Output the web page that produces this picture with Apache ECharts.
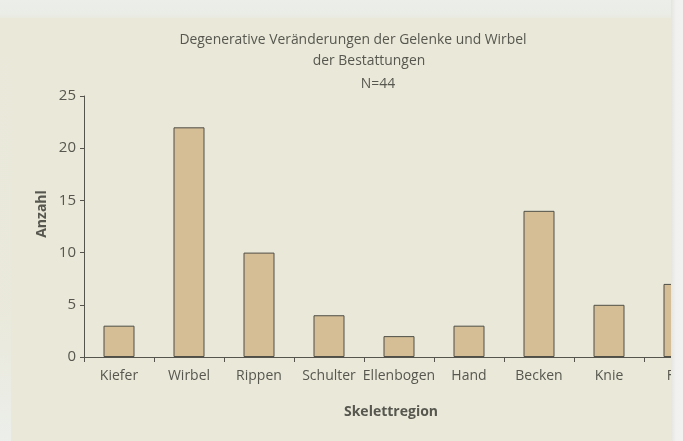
<!DOCTYPE html>
<html><head><meta charset="utf-8">
<script src="https://cdn.jsdelivr.net/npm/echarts@6/dist/echarts.min.js"></script>
<style>html,body{margin:0;padding:0;background:#e9e8d9;overflow:hidden;}#c{width:720px;height:441px;}</style>
</head><body><div id="c"></div>
<script>
const categories = ['Kiefer','Wirbel','Rippen','Schulter','Ellenbogen','Hand','Becken','Knie','Fuß'];
const values = [3,22,10,4,2,3,14,5,7];
const titleLines = ['Degenerative Veränderungen der Gelenke und Wirbel','der Bestattungen','N=44'];
const yTicks = [0,5,10,15,20,25];

const chart = echarts.init(document.getElementById('c'));
const txt = '#57574f';
chart.setOption({
  backgroundColor: '#e9e8d9',
  animation: false,
  graphic: [
    {type:'rect', z:-10, shape:{x:0,y:0,width:720,height:18}, style:{fill:new echarts.graphic.LinearGradient(0,0,0,1,[{offset:0,color:'#eceeea'},{offset:0.8,color:'#eaece6'},{offset:1,color:'#e9eadf'}])}},
    {type:'rect', z:-10, shape:{x:0,y:18,width:11,height:423}, style:{fill:new echarts.graphic.LinearGradient(0,0,0,1,[{offset:0,color:'rgba(236,238,234,0)'},{offset:0.7,color:'rgba(236,238,234,0.15)'},{offset:1,color:'rgba(236,239,236,0.9)'}])}},
    {type:'text', x:353, y:40, style:{text:titleLines[0], font:'13.9px "Open Sans"', fill:txt, textAlign:'center', textVerticalAlign:'middle'}},
    {type:'text', x:369, y:61, style:{text:titleLines[1], font:'13.9px "Open Sans"', fill:txt, textAlign:'center', textVerticalAlign:'middle'}},
    {type:'text', x:378, y:84, style:{text:titleLines[2], font:'13.9px "Open Sans"', fill:txt, textAlign:'center', textVerticalAlign:'middle'}},
    {type:'text', x:391, y:412, style:{text:'Skelettregion', font:'bold 14px "Open Sans"', fill:txt, textAlign:'center', textVerticalAlign:'middle'}},
    {type:'text', x:42, y:214, rotation:Math.PI/2, style:{text:'Anzahl', font:'bold 14px "Open Sans"', fill:txt, textAlign:'center', textVerticalAlign:'middle'}},
    {type:'rect', z:100, shape:{x:671,y:0,width:49,height:441}, style:{fill:new echarts.graphic.LinearGradient(0,0,1,0,[{offset:0,color:'#e4e5df'},{offset:0.1,color:'#f1f2f0'},{offset:1,color:'#f7f7f6'}])}}
  ],
  grid: {left:84, top:96, right:6, height:261, containLabel:false},
  xAxis: {
    type:'category', data:categories,
    axisLine:{lineStyle:{color:'#55554e', width:1}},
    axisTick:{show:true, alignWithLabel:false, length:5, lineStyle:{color:'#55554e'}},
    axisLabel:{color:txt, fontFamily:'Open Sans', fontSize:14, margin:12, interval:0}
  },
  yAxis: {
    type:'value', min:0, max:25, interval:5,
    axisLine:{show:true, lineStyle:{color:'#55554e', width:1}},
    axisTick:{show:true, length:4, lineStyle:{color:'#55554e'}},
    splitLine:{show:false},
    axisLabel:{color:txt, fontFamily:'Open Sans', fontSize:15, margin:8,
      formatter: v => yTicks.includes(v) ? String(v) : ''}
  },
  series: [{
    type:'bar', data:values, barWidth:31,
    itemStyle:{color:'#d5bd95', borderColor:'#4f4f47', borderWidth:1}
  }]
});
</script></body></html>
